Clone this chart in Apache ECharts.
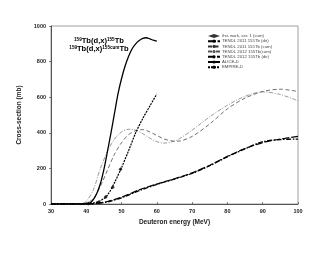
<!DOCTYPE html>
<html><head><meta charset="utf-8">
<script src="https://cdn.jsdelivr.net/npm/echarts@6/dist/echarts.min.js"></script>
<style>html,body{margin:0;padding:0;background:#fff}#c{width:330px;height:255px}</style>
</head><body><div id="c"></div>
<script>
// ---- data ----
const xTicks = [30, 40, 50, 60, 70, 80, 90, 100];
const yTicks = [0, 200, 400, 600, 800, 1000];

const expE = [40.6, 43.5, 45.5, 47.5, 49.7];
const expXS = [3, 10, 40, 94, 195];

const cumE = [30, 38, 40, 42, 44, 46, 48, 50, 52, 54, 56, 58, 60, 62, 64, 66, 70, 75, 80, 85, 90, 95, 100];
const tendl2011cum = [0, 0, 5, 30, 100, 190, 280, 345, 390, 412, 418, 405, 385, 366, 355, 353, 380, 450, 535, 595, 632, 645, 632];
const tendl2012cum = [0, 0, 15, 80, 200, 295, 365, 405, 420, 415, 395, 370, 350, 342, 348, 362, 415, 490, 555, 605, 630, 615, 580];

const dirE = [30, 40, 43, 46, 50, 55, 60, 65, 70, 75, 80, 85, 90, 95, 100];
const tendl2011dir = [0, 0, 3, 12, 35, 75, 110, 140, 172, 215, 265, 310, 350, 362, 365];
const tendl2012dir = [0, 0, 4, 14, 38, 80, 112, 142, 175, 218, 268, 312, 345, 365, 380];

const aliceE = [30, 40, 41, 42, 43, 44, 45, 46, 47, 48, 49, 50, 51, 52, 53, 54, 55, 56, 57, 58, 59, 60];
const alice = [0, 0, 5, 25, 60, 115, 195, 295, 400, 510, 620, 705, 775, 830, 872, 900, 918, 930, 934, 928, 920, 915];

const empireE = [30, 38.5, 40, 42, 44, 46, 48, 50, 52, 54, 56, 58, 60];
const empire = [0, 0, 2, 6, 18, 50, 120, 205, 300, 400, 480, 550, 618];

const names = ['this work, ser. 1 (cum)', 'TENDL 2011 155Tb (dir)', 'TENDL 2011 155Tb (cum)',
  'TENDL 2012 155Tb(cum)', 'TENDL 2012 155Tb (dir)', 'ALICE-D', 'EMPIRE-D'];

const pairs = (xs, ys) => xs.map((x, i) => [x, ys[i]]);
const FONT = 'Liberation Sans, Arial, sans-serif';

function lineS(name, xs, ys, width, type, color) {
  return { name, type: 'line', data: pairs(xs, ys), smooth: 0.3, showSymbol: false, symbol: 'none',
    lineStyle: { color: color || '#000', width, type }, itemStyle: { color: color || '#000' }, z: 3 };
}

const chart = echarts.init(document.getElementById('c'), null, { renderer: 'canvas' });
chart.setOption({
  animation: false,
  backgroundColor: '#fff',
  grid: { left: 51, right: 32, top: 26, bottom: 51, show: true, borderColor: '#888', borderWidth: 0.8 },
  xAxis: {
    type: 'value', min: 30, max: 100, interval: 10,
    name: 'Deuteron energy (MeV)', nameLocation: 'middle', nameGap: 12,
    nameTextStyle: { fontFamily: FONT, fontSize: 6.5, fontWeight: 'bold', color: '#222' },
    axisLine: { lineStyle: { color: '#333', width: 0.8 } },
    axisTick: { inside: true, length: 2, lineStyle: { color: '#333', width: 0.6 } },
    axisLabel: { fontFamily: FONT, fontSize: 5.5, fontWeight: 'bold', color: '#222', margin: 4,
      formatter: v => String(v) },
    splitLine: { show: false }
  },
  yAxis: {
    type: 'value', min: 0, max: 1000, interval: 200,
    name: 'Cross-section (mb)', nameLocation: 'middle', nameGap: 18,
    nameTextStyle: { fontFamily: FONT, fontSize: 6.5, fontWeight: 'bold', color: '#222' },
    axisLine: { show: true, lineStyle: { color: '#333', width: 0.8 } },
    axisTick: { show: true, length: 2, lineStyle: { color: '#333', width: 0.6 } },
    axisLabel: { fontFamily: FONT, fontSize: 5.5, fontWeight: 'bold', color: '#222', margin: 5,
      formatter: v => String(v) },
    splitLine: { show: false }
  },
  legend: {
    orient: 'vertical', left: 207, top: 34, itemWidth: 12, itemHeight: 4, itemGap: 1.2,
    padding: 0,
    textStyle: { fontFamily: FONT, fontSize: 4.3, color: '#444', padding: [0, 0, 0, -3] },
    data: names
  },
  graphic: [{
    type: 'text', x: 99, y: 37,
    style: {
      text: '{s|159}{b|Tb(d,x)}{s|155}{b|Tb}\n{s|159}{b|Tb(d,x)}{s|155cum}{b|Tb}',
      align: 'center', verticalAlign: 'top',
      rich: {
        s: { fontFamily: FONT, fontSize: 4.6, fontWeight: 'bold', fill: '#000', verticalAlign: 'top', lineHeight: 8 },
        b: { fontFamily: FONT, fontSize: 7.6, fontWeight: 'bold', fill: '#000', lineHeight: 8 }
      }
    }
  }],
  series: [
    { name: names[0], type: 'scatter', data: pairs(expE, expXS), symbol: 'diamond', symbolSize: 4,
      itemStyle: { color: '#000' }, z: 5 },
    lineS(names[1], dirE, tendl2011dir, 1.3, [5, 1.5, 1.5, 1.5]),
    lineS(names[2], cumE, tendl2011cum, 0.7, [4, 2.5], '#333'),
    lineS(names[3], cumE, tendl2012cum, 0.6, [4, 1.5, 1, 1.5], '#555'),
    lineS(names[4], dirE, tendl2012dir, 1.2, [7, 2]),
    lineS(names[5], aliceE, alice, 1.3, 'solid'),
    lineS(names[6], empireE, empire, 1.2, [2, 1])
  ]
});
</script></body></html>
